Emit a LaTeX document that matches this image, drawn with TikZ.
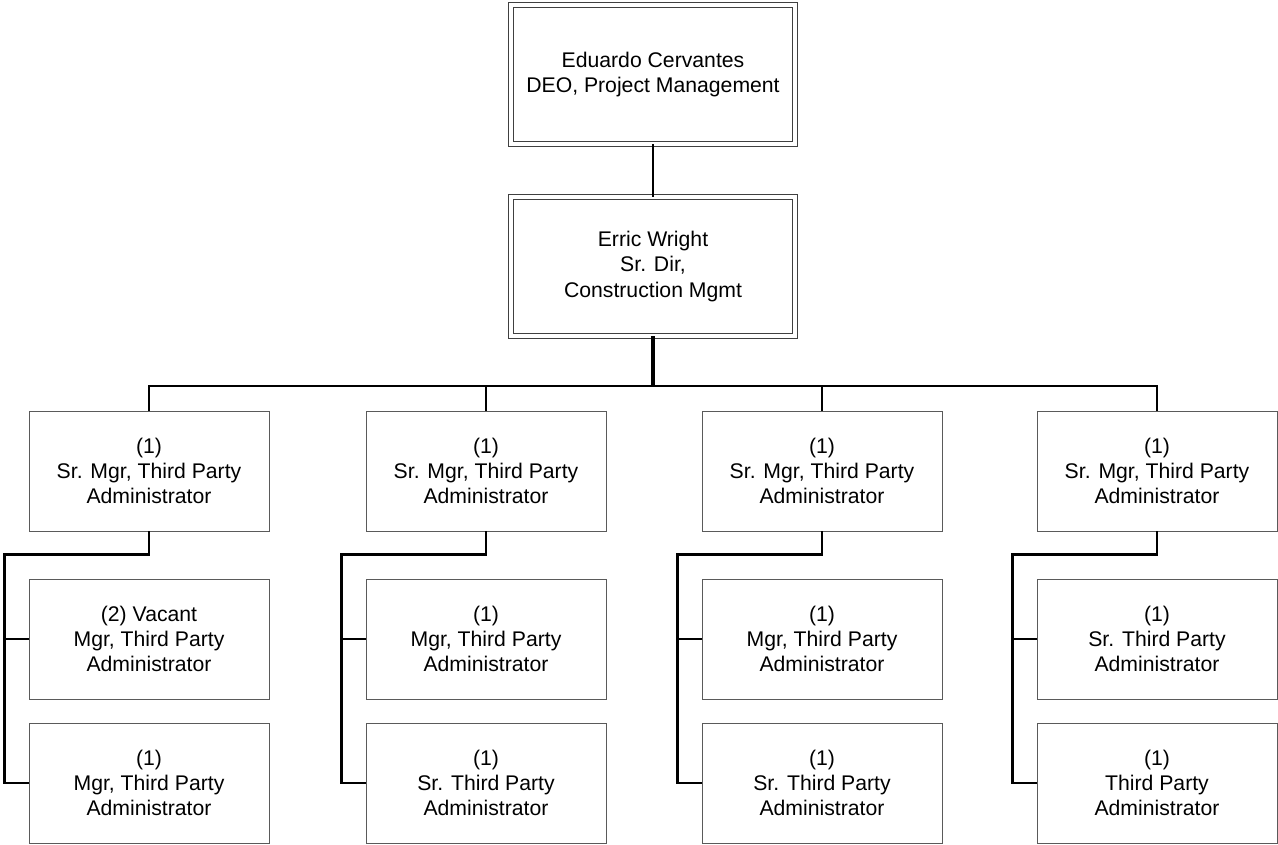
\documentclass[tikz,border=0pt]{standalone}
\usepackage{fontspec}
\setmainfont{Liberation Sans}
\usepackage{xcolor}
\usepackage{tikz}
\usetikzlibrary{positioning}
\definecolor{cinzaborda}{RGB}{90,90,90}
\tikzset{
  chefe/.style={rectangle,draw=black!75,double,double distance=2.6pt,line width=0.9pt,
    minimum width=213pt,minimum height=104pt,align=center,
    font=\fontsize{15.9}{18.8}\selectfont},
  cargo/.style={rectangle,draw=cinzaborda,line width=0.7pt,
    minimum width=180pt,minimum height=90pt,align=center,
    font=\fontsize{15.9}{18.8}\selectfont},
  ligacao/.style={line width=1.9pt,black}
}

\begin{document}
\begin{tikzpicture}[x=0.75pt,y=-0.75pt]
\useasboundingbox (0,0) rectangle (1278,845);
% topo
\node[chefe] (deo) at (653,74.5) {Eduardo Cervantes\\DEO, Project Management};
\node[chefe] (dir) at (653,266.5) {Erric Wright\\Sr. Dir,\\Construction Mgmt};
% gerentes seniores
\node[cargo] (a1) at (149,471) {(1)\\Sr. Mgr, Third Party\\Administrator};
\node[cargo] (b1) at (486,471) {(1)\\Sr. Mgr, Third Party\\Administrator};
\node[cargo] (c1) at (822,471) {(1)\\Sr. Mgr, Third Party\\Administrator};
\node[cargo] (d1) at (1157,471) {(1)\\Sr. Mgr, Third Party\\Administrator};
% segundo nivel
\node[cargo] (a2) at (149,639) {(2) Vacant\\Mgr, Third Party\\Administrator};
\node[cargo] (b2) at (486,639) {(1)\\Mgr, Third Party\\Administrator};
\node[cargo] (c2) at (822,639) {(1)\\Mgr, Third Party\\Administrator};
\node[cargo] (d2) at (1157,639) {(1)\\Sr. Third Party\\Administrator};
\node[cargo] (a3) at (149,783) {(1)\\Mgr, Third Party\\Administrator};
\node[cargo] (b3) at (486,783) {(1)\\Sr. Third Party\\Administrator};
\node[cargo] (c3) at (822,783) {(1)\\Sr. Third Party\\Administrator};
\node[cargo] (d3) at (1157,783) {(1)\\Third Party\\Administrator};
% ligacoes
\coordinate (barra) at (653,386);
\draw[ligacao] (deo) -- (dir);
\draw[ligacao,line width=2.6pt] (dir.south) -- (barra);
\foreach \c in {a,b,c,d}{
  \draw[ligacao] (barra) -| (\c1.north);
  \draw[ligacao] (\c1.south) -- ++(0,23) -| ([xshift=-18pt]\c3.west) -- (\c3.west);
  \draw[ligacao] ([xshift=-18pt]\c2.west) -- (\c2.west);
}
\end{tikzpicture}
\end{document}
